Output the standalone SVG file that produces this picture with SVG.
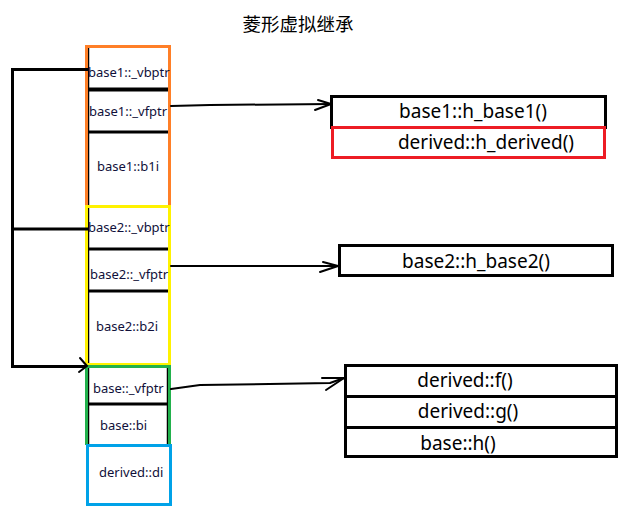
<svg xmlns="http://www.w3.org/2000/svg" width="642" height="524" viewBox="0 0 642 524">
<style>
text{font-family:"Noto Sans","Liberation Sans",Arial,sans-serif;fill:#10103a}
.s{font-size:13px}
.t{font-size:19px;text-anchor:middle;fill:#000}
.conn{fill:none;stroke:#000;stroke-width:2;stroke-linecap:round;stroke-linejoin:round}
.lc{fill:none;stroke:#000;stroke-width:3}
</style>
<rect width="642" height="524" fill="#fff"/>
<text x="298" y="31" text-anchor="middle" style="font-family:'Noto Sans CJK SC','Noto Sans',sans-serif;font-size:18.5px;fill:#000">菱形虚拟继承</text>

<g id="base1">
<line x1="88.5" y1="47" x2="88.5" y2="206" stroke="#000" stroke-width="1.5"/>
<line x1="88" y1="89.5" x2="168" y2="89.5" stroke="#000" stroke-width="4"/>
<line x1="88" y1="132" x2="168" y2="132" stroke="#000" stroke-width="3"/>
<rect x="86.5" y="46.5" width="83" height="160" fill="none" stroke="#ff7f27" stroke-width="3"/>
<text class="s" x="88" y="77">base1::_vbptr</text>
<text class="s" x="89" y="116">base1::_vfptr</text>
<text class="s" x="97" y="171">base1::b1i</text>
</g>

<g id="base2">
<line x1="88.5" y1="207" x2="88.5" y2="364" stroke="#000" stroke-width="1.5"/>
<line x1="88" y1="249" x2="168" y2="249" stroke="#000" stroke-width="3"/>
<line x1="88" y1="291" x2="168" y2="291" stroke="#000" stroke-width="3"/>
<rect x="86.5" y="206.5" width="83" height="158" fill="none" stroke="#fff200" stroke-width="3"/>
<text class="s" x="88" y="232">base2::_vbptr</text>
<text class="s" x="90" y="279">base2::_vfptr</text>
<text class="s" x="96" y="331">base2::b2i</text>
</g>

<g id="base">
<line x1="88.5" y1="367" x2="88.5" y2="444" stroke="#000" stroke-width="1.5"/>
<line x1="167.5" y1="367" x2="167.5" y2="444" stroke="#000" stroke-width="1.5"/>
<line x1="88" y1="404" x2="168" y2="404" stroke="#000" stroke-width="3"/>
<path d="M86.5 445 V366.5 H169.5 V445" fill="none" stroke="#22b14c" stroke-width="3"/>
<text class="s" x="93" y="393">base::_vfptr</text>
<text class="s" x="100" y="430">base::bi</text>
</g>

<g id="derived">
<rect x="87.5" y="445.5" width="83" height="59" fill="none" stroke="#00a2e8" stroke-width="3"/>
<text class="s" x="99" y="477">derived::di</text>
</g>

<g id="vtable1">
<rect x="331.5" y="96.5" width="274" height="31" fill="none" stroke="#000" stroke-width="3"/>
<rect x="332.5" y="127.5" width="272" height="30" fill="none" stroke="#ed1c24" stroke-width="3"/>
<text class="t" x="473" y="118">base1::h_base1()</text>
<text class="t" x="486" y="149">derived::h_derived()</text>
</g>

<g id="vtable2">
<rect x="339.5" y="245.5" width="273" height="30" fill="none" stroke="#000" stroke-width="3"/>
<text class="t" x="476" y="268">base2::h_base2()</text>
</g>

<g id="vtable3">
<rect x="345.5" y="365.5" width="271" height="91" fill="none" stroke="#000" stroke-width="3"/>
<line x1="345" y1="396.5" x2="617" y2="396.5" stroke="#000" stroke-width="3"/>
<line x1="345" y1="427.5" x2="617" y2="427.5" stroke="#000" stroke-width="3"/>
<text class="t" x="465" y="387">derived::f()</text>
<text class="t" x="468" y="418">derived::g()</text>
<text class="t" x="458" y="450">base::h()</text>
</g>

<g id="connectors">
<path class="lc" d="M88 69.5 H12.5 V366.5 H86"/>
<line class="lc" x1="12" y1="229" x2="88" y2="229"/>
<path class="conn" d="M80 358 L87 366 L79 372"/>
<path class="conn" d="M171 106 L210 105 L331 104"/>
<path class="conn" d="M318 100 L331 104 L315 110"/>
<path class="conn" d="M171 266 L338 266"/>
<path class="conn" d="M323 262 L338 266 L320 272"/>
<path class="conn" d="M171 389 L200 385 L330 383 L344 378"/>
<path class="conn" d="M322 378 L344 378 L326 390"/>
</g>
</svg>
